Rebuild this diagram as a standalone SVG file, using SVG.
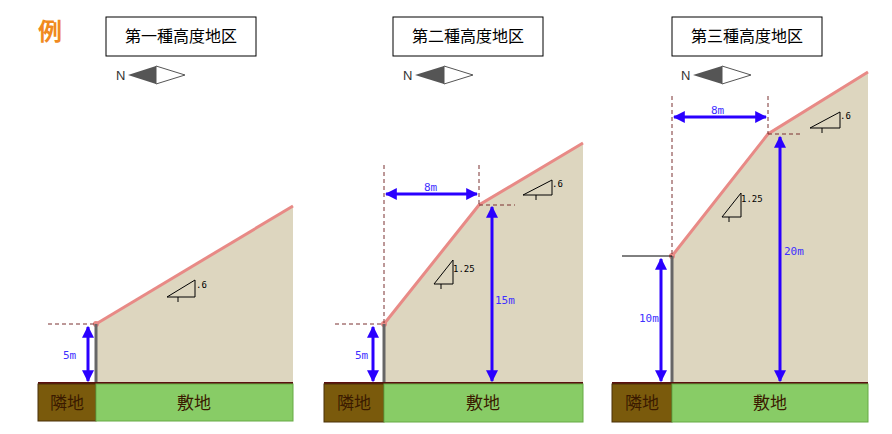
<svg xmlns="http://www.w3.org/2000/svg" width="892" height="434" viewBox="0 0 892 434">
<defs>
<marker id="ah" viewBox="0 0 10 10" refX="9" refY="5" markerWidth="4" markerHeight="4" orient="auto-start-reverse"><path d="M0,0 L10,5 L0,10 z" fill="#2a00ff"/></marker>
<style>
.fill{fill:#ddd6bf}
.slope{fill:none;stroke:#e88a86;stroke-width:3}
.wall{stroke:#666;stroke-width:3}
.gl{stroke:#5a1010;stroke-width:2}
.rin{fill:#7a5a0c;stroke:#4a3008}
.shiki{fill:#88cc66;stroke:#66aa44}
.gt{font-family:"Noto Sans CJK JP","Noto Sans",sans-serif;font-size:17px;fill:#3a1a00;text-anchor:middle}
.dash{stroke:#7a3030;stroke-width:1;stroke-dasharray:4,3;fill:none}
.dim{stroke:#2a00ff;stroke-width:3;marker-start:url(#ah);marker-end:url(#ah)}
.dl{font-family:"DejaVu Sans Mono",monospace;font-size:11px;fill:#4030ff}
.tri{fill:none;stroke:#000;stroke-width:1}
.tl{font-family:"DejaVu Sans Mono",monospace;font-size:9px;fill:#000}
.tb{fill:#fff;stroke:#000;stroke-width:1}
.tt{font-family:"Noto Sans CJK JP",sans-serif;font-size:16px;fill:#000;text-anchor:middle}
.nl{font-family:"Liberation Sans",sans-serif;font-size:13px;fill:#333}
</style>
</defs>
<text x="38" y="40" font-family="Noto Sans CJK JP,sans-serif" font-size="24" font-weight="bold" fill="#f08a20">例</text>

<g id="panel1">
<polygon class="fill" points="96,324 293,206 293,383 96,383"/>
<polyline class="slope" points="96,324 293,206"/>
<circle cx="96" cy="324" r="3" fill="#e88a86"/>
<line class="wall" x1="96" y1="324" x2="96" y2="383"/>
<line class="gl" x1="38" y1="383" x2="293" y2="383"/>
<rect class="rin" x="38" y="384" width="58" height="37"/>
<rect class="shiki" x="96" y="384" width="197" height="37"/>
<text class="gt" x="67" y="409">隣地</text><text class="gt" x="194" y="409">敷地</text>
<path class="tri" d="M167,297 L195,280 L195,297 Z M178,297 v5"/>
<text class="tl" x="196" y="288">.6</text>
<rect class="tb" x="106" y="17" width="150" height="39"/><text class="tt" x="181" y="42">第一種高度地区</text>
<text class="nl" x="116" y="80">N</text>
<polygon points="128,75 156,66 156,84" fill="#555"/><polygon points="156,66 185,75 156,84" fill="#fff" stroke="#555"/>
</g>

<g id="panel2">
<polygon class="fill" points="384,324 479,205 583,143 583,383 384,383"/>
<polyline class="slope" points="384,324 479,205 583,143"/>
<circle cx="384" cy="324" r="3" fill="#e88a86"/>
<line class="wall" x1="384" y1="324" x2="384" y2="383"/>
<line class="gl" x1="324" y1="383" x2="583" y2="383"/>
<rect class="rin" x="324" y="384" width="60" height="38"/>
<rect class="shiki" x="384" y="384" width="199" height="38"/>
<text class="gt" x="354" y="409">隣地</text><text class="gt" x="483" y="409">敷地</text>
<path class="tri" d="M434,284 L453,260 L453,284 Z M441,284 v5"/>
<text class="tl" x="453" y="272">1.25</text>
<path class="tri" d="M523,195 L552,180 L552,195 Z M536,195 v5"/>
<text class="tl" x="552" y="187">.6</text>
<rect class="tb" x="393" y="17" width="150" height="39"/><text class="tt" x="468" y="42">第二種高度地区</text>
<text class="nl" x="403" y="80">N</text>
<polygon points="415,75 444,66 444,84" fill="#555"/><polygon points="444,66 473,75 444,84" fill="#fff" stroke="#555"/>
</g>

<g id="panel3">
<polygon class="fill" points="672,256 768,134 868,72 868,383 672,383"/>
<polyline class="slope" points="672,256 768,134 868,72"/>
<circle cx="672" cy="256" r="3" fill="#e88a86"/>
<line class="wall" x1="672" y1="256" x2="672" y2="383"/>
<line class="gl" x1="612" y1="383" x2="868" y2="383"/>
<rect class="rin" x="612" y="384" width="60" height="38"/>
<rect class="shiki" x="672" y="384" width="196" height="38"/>
<text class="gt" x="642" y="409">隣地</text><text class="gt" x="770" y="409">敷地</text>
<path class="tri" d="M722,217 L741,193 L741,217 Z M729,217 v5"/>
<text class="tl" x="741" y="202">1.25</text>
<path class="tri" d="M810,128 L840,112 L840,128 Z M822,128 v5"/>
<text class="tl" x="840" y="119">.6</text>
<rect class="tb" x="672" y="17" width="150" height="39"/><text class="tt" x="747" y="42">第三種高度地区</text>
<text class="nl" x="681" y="80">N</text>
<polygon points="693,75 722,66 722,84" fill="#555"/><polygon points="722,66 751,75 722,84" fill="#fff" stroke="#555"/>
</g>

<g id="connectors">
<line class="dash" x1="48" y1="324" x2="96" y2="324"/>
<line class="dim" x1="88" y1="327" x2="88" y2="381"/>
<text class="dl" x="63" y="359">5m</text>

<line class="dash" x1="335" y1="324" x2="384" y2="324"/>
<line class="dash" x1="384" y1="165" x2="384" y2="324"/>
<line class="dash" x1="479" y1="165" x2="479" y2="205"/>
<line class="dash" x1="479" y1="205" x2="515" y2="205"/>
<line class="dim" x1="386" y1="194" x2="477" y2="194"/>
<text class="dl" x="424" y="191">8m</text>
<line class="dim" x1="373" y1="327" x2="373" y2="381"/>
<text class="dl" x="355" y="359">5m</text>
<line class="dim" x1="492" y1="207" x2="492" y2="381"/>
<text class="dl" x="495" y="304">15m</text>

<line x1="622" y1="256" x2="672" y2="256" stroke="#000" stroke-width="1"/>
<line class="dash" x1="672" y1="96" x2="672" y2="256"/>
<line class="dash" x1="768" y1="96" x2="768" y2="134"/>
<line class="dash" x1="768" y1="134" x2="800" y2="134"/>
<line class="dim" x1="674" y1="117" x2="766" y2="117"/>
<text class="dl" x="711" y="114">8m</text>
<line class="dim" x1="661" y1="259" x2="661" y2="381"/>
<text class="dl" x="639" y="322">10m</text>
<line class="dim" x1="780" y1="137" x2="780" y2="381"/>
<text class="dl" x="784" y="255">20m</text>
</g>
</svg>
